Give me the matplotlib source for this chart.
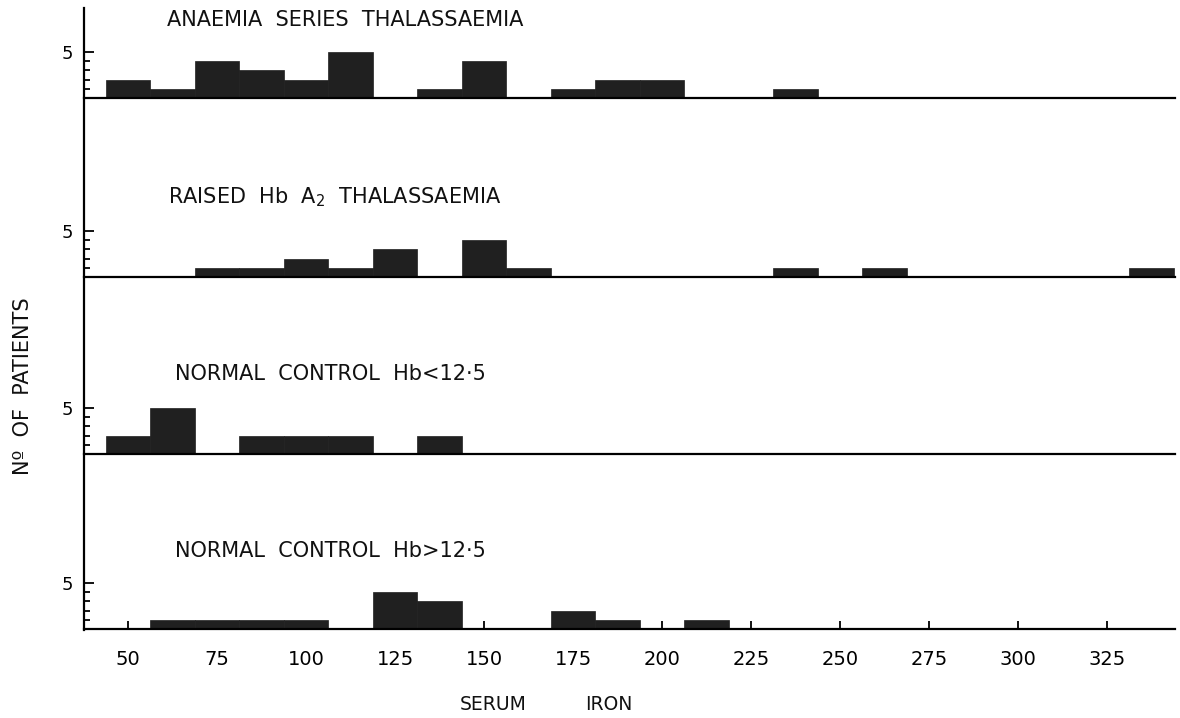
import matplotlib
matplotlib.use("Agg")
import matplotlib.pyplot as plt
from matplotlib.lines import Line2D
from matplotlib.ticker import FixedLocator

# ---------------- data (bin centres, width 12.5, counts) ----------------
bin_width = 12.5

anaemia_centres = [50, 62.5, 75, 87.5, 100, 112.5, 137.5, 150, 175, 187.5, 200, 237.5]
anaemia_counts = [2, 1, 4, 3, 2, 5, 1, 4, 1, 2, 2, 1]

raised_a2_centres = [75, 87.5, 100, 112.5, 125, 150, 162.5, 237.5, 262.5, 337.5]
raised_a2_counts = [1, 1, 2, 1, 3, 4, 1, 1, 1, 1]

normal_low_centres = [50, 62.5, 87.5, 100, 112.5, 137.5]
normal_low_counts = [2, 5, 2, 2, 2, 2]

normal_high_centres = [62.5, 75, 87.5, 100, 125, 137.5, 175, 187.5, 212.5]
normal_high_counts = [1, 1, 1, 1, 4, 3, 2, 1, 1]

panel_titles = [
    "ANAEMIA  SERIES  THALASSAEMIA",
    "RAISED  Hb  A$_2$  THALASSAEMIA",
    "NORMAL  CONTROL  Hb<12·5",
    "NORMAL  CONTROL  Hb>12·5",
]

x_ticks = [50, 75, 100, 125, 150, 175, 200, 225, 250, 275, 300, 325]
x_tick_labels = ["50", "75", "100", "125", "150", "175", "200", "225", "250", "275", "300", "325"]

# ---------------- layout ----------------
W, H = 1180, 718
fig = plt.figure(figsize=(W / 100, H / 100), dpi=100)
fig.patch.set_facecolor("white")

PX_PER_UNIT_X = 3.56
X0_PX, X0_VAL = 128, 50
LEFT_PX = 84
XMIN = X0_VAL + (LEFT_PX - X0_PX) / PX_PER_UNIT_X
XMAX = 344.0
RIGHT_PX = X0_PX + (XMAX - X0_VAL) * PX_PER_UNIT_X
PX_PER_COUNT = 9.2

# (top px, baseline px, bottom px) of each panel
panels_px = [(8, 98, 180), (180, 277, 362), (362, 454, 540), (540, 629, 629)]
title_y_px = [20, 197, 374, 551]
title_x_px = [167, 168, 175, 175]

series = [
    (anaemia_centres, anaemia_counts),
    (raised_a2_centres, raised_a2_counts),
    (normal_low_centres, normal_low_counts),
    (normal_high_centres, normal_high_counts),
]

bar_color = "#202020"
axes = []
for i, ((top, base, bot), (centres, counts)) in enumerate(zip(panels_px, series)):
    ax = fig.add_axes([LEFT_PX / W, 1 - bot / H, (RIGHT_PX - LEFT_PX) / W, (bot - top) / H])
    ax.set_xlim(XMIN, XMAX)
    ax.set_ylim(-(bot - base) / PX_PER_COUNT, (base - top) / PX_PER_COUNT)
    ax.bar(centres, counts, width=bin_width, align="center", color=bar_color,
           edgecolor=bar_color, linewidth=0.5, zorder=3)
    for s in ("top", "right", "left"):
        ax.spines[s].set_visible(False)
    if bot != base:
        ax.spines["bottom"].set_position(("data", 0))
    ax.spines["bottom"].set_linewidth(1.6)
    ax.spines["bottom"].set_zorder(4)
    ax.set_facecolor("none")
    ax.yaxis.set_major_locator(FixedLocator([5]))
    ax.yaxis.set_minor_locator(FixedLocator([1, 2, 3, 4]))
    ax.set_yticklabels(["5"])
    ax.tick_params(axis="y", which="major", direction="in", length=7, width=1.3,
                   labelsize=13, pad=8)
    ax.tick_params(axis="y", which="minor", direction="in", length=4, width=1.3)
    ax.set_xticks([])
    fig.text(title_x_px[i] / W, 1 - title_y_px[i] / H, panel_titles[i],
             fontsize=15, ha="left", va="center", color="#111111")
    axes.append(ax)

# one continuous vertical axis line on the left
fig.add_artist(Line2D([LEFT_PX / W, LEFT_PX / W], [1 - 8 / H, 1 - 630 / H],
                      color="black", linewidth=1.6, transform=fig.transFigure))

# bottom axis ticks (drawn upwards from the baseline)
axb = axes[-1]
axb.set_xticks(x_ticks)
axb.set_xticklabels(x_tick_labels)
axb.tick_params(axis="x", which="major", direction="in", length=6, width=1.3,
                labelsize=14, pad=15, bottom=True)
for t in axb.xaxis.get_major_ticks():
    t.tick1line.set_zorder(1)

fig.text(23 / W, 1 - 386 / H, "Nº  OF  PATIENTS", rotation=90, fontsize=15,
         ha="center", va="center", color="#111111")
fig.text(493 / W, 1 - 705 / H, "SERUM", fontsize=13.5, ha="center", va="center", color="#111111")
fig.text(609 / W, 1 - 705 / H, "IRON", fontsize=13.5, ha="center", va="center", color="#111111")

fig.savefig("out.png", dpi=100, facecolor="white")
